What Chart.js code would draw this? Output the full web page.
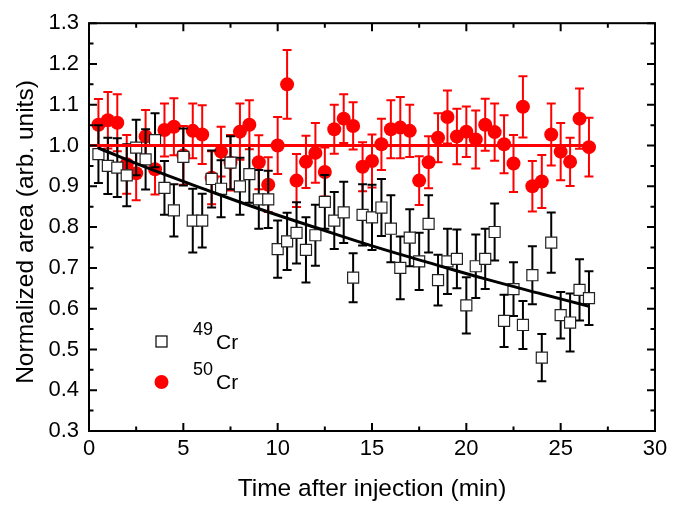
<!DOCTYPE html>
<html>
<head>
<meta charset="utf-8">
<title>Normalized area vs time</title>
<script src="https://cdn.jsdelivr.net/npm/chart.js@4.4.1/dist/chart.umd.min.js"></script>
<style>
    html, body { margin: 0; padding: 0; background: #fff; }
    #wrap { width: 691px; height: 505px; }
</style>
</head>
<body>
<div id="wrap"><canvas id="areaChart" width="691" height="505"></canvas></div>
<script>
// ==========================================
// DATA
// ==========================================
const times = [0.5, 1, 1.5, 2, 2.5, 3, 3.5, 4, 4.5, 5, 5.5, 6, 6.5, 7, 7.5, 8, 8.5, 9, 9.5, 10,
    10.5, 11, 11.5, 12, 12.5, 13, 13.5, 14, 14.5, 15, 15.5, 16, 16.5, 17, 17.5, 18, 18.5, 19, 19.5, 20,
    20.5, 21, 21.5, 22, 22.5, 23, 23.5, 24, 24.5, 25, 25.5, 26, 26.5];

// 49Cr (open squares)
const cr49 = [0.979, 0.950, 0.946, 0.927, 0.995, 0.966, 1.013, 0.896, 0.841, 0.972,
    0.816, 0.816, 0.918, 0.894, 0.958, 0.900, 0.930, 0.868, 0.868, 0.746,
    0.765, 0.786, 0.744, 0.780, 0.862, 0.816, 0.836, 0.676, 0.830, 0.824,
    0.848, 0.796, 0.700, 0.774, 0.716, 0.808, 0.670, 0.716, 0.722, 0.608,
    0.704, 0.722, 0.788, 0.570, 0.648, 0.560, 0.682, 0.480, 0.762, 0.584,
    0.566, 0.646, 0.626];
const cr49Err = [0.071, 0.069, 0.072, 0.076, 0.068, 0.074, 0.066, 0.066, 0.064, 0.070,
    0.078, 0.066, 0.070, 0.070, 0.065, 0.070, 0.070, 0.072, 0.070, 0.070,
    0.070, 0.075, 0.080, 0.075, 0.066, 0.070, 0.075, 0.060, 0.075, 0.080,
    0.070, 0.082, 0.077, 0.070, 0.070, 0.070, 0.062, 0.080, 0.072, 0.069,
    0.078, 0.074, 0.070, 0.064, 0.066, 0.059, 0.071, 0.058, 0.074, 0.057,
    0.071, 0.075, 0.066];

// 50Cr (filled circles)
const cr50 = [1.051, 1.062, 1.056, 0.954, 0.932, 1.022, 0.942, 1.038, 1.046, 0.976,
    1.036, 1.027, 0.921, 0.985, 0.958, 1.034, 1.051, 0.959, 0.904, 1.000,
    1.150, 0.914, 0.960, 0.982, 0.935, 1.040, 1.066, 1.048, 0.948, 0.962,
    1.003, 1.040, 1.044, 1.036, 0.914, 0.959, 1.019, 1.070, 1.022, 1.034,
    1.015, 1.051, 1.033, 1.003, 0.956, 1.095, 0.900, 0.912, 1.027, 0.985,
    0.960, 1.066, 0.996];
const cr50Err = [0.063, 0.069, 0.070, 0.072, 0.066, 0.065, 0.062, 0.065, 0.070, 0.072,
    0.067, 0.072, 0.065, 0.061, 0.068, 0.069, 0.060, 0.066, 0.067, 0.070,
    0.084, 0.065, 0.064, 0.073, 0.060, 0.060, 0.060, 0.058, 0.060, 0.065,
    0.063, 0.071, 0.075, 0.064, 0.060, 0.064, 0.060, 0.065, 0.068, 0.062,
    0.071, 0.064, 0.070, 0.071, 0.070, 0.075, 0.062, 0.065, 0.076, 0.070,
    0.059, 0.074, 0.072];

// fit curves
const fit49T = [0.5, 3, 6, 9, 12, 15, 18, 21, 24, 26.5];
const fit49Y = [0.994, 0.947, 0.895, 0.845, 0.799, 0.754, 0.713, 0.673, 0.636, 0.606];
const fit50T = [0, 26.8];
const fit50Y = [1.0, 1.0];

// axes
const xTickValues = [0, 5, 10, 15, 20, 25, 30];
const yTickValues = [0.3, 0.4, 0.5, 0.6, 0.7, 0.8, 0.9, 1.0, 1.1, 1.2, 1.3];
const yTitle = 'Normalized area (arb. units)';

const toPoints = (xs, ys) => xs.map((x, i) => ({ x: x, y: ys[i] }));
const fontFamily = '"Liberation Sans", Arial, sans-serif';

// ==========================================
// PLUGINS
// ==========================================
// error bars, drawn just under each dataset's markers
const errorBars = {
    id: 'errorBars',
    beforeDatasetDraw(chart, args) {
        const ds = chart.data.datasets[args.index];
        if (!ds.errors) return;
        const ctx = chart.ctx;
        const xs = chart.scales.x, ys = chart.scales.y;
        ctx.save();
        ctx.strokeStyle = ds.errorColor;
        ctx.lineWidth = 2;
        ds.data.forEach((p, i) => {
            const px = xs.getPixelForValue(p.x);
            const top = ys.getPixelForValue(p.y + ds.errors[i]);
            const bot = ys.getPixelForValue(p.y - ds.errors[i]);
            ctx.beginPath();
            ctx.moveTo(px, top); ctx.lineTo(px, bot);
            ctx.moveTo(px - 4.5, top); ctx.lineTo(px + 4.5, top);
            ctx.moveTo(px - 4.5, bot); ctx.lineTo(px + 4.5, bot);
            ctx.stroke();
        });
        ctx.restore();
    }
};

// box frame with inward major/minor ticks on all four sides, plus the y title
const frame = {
    id: 'frame',
    afterDraw(chart) {
        const { ctx, chartArea: a, scales: { x, y } } = chart;
        ctx.save();
        ctx.strokeStyle = '#000';
        ctx.lineWidth = 2;
        ctx.strokeRect(a.left, a.top, a.right - a.left, a.bottom - a.top);
        ctx.beginPath();
        xTickValues.forEach((v, i) => {
            const marks = [[v, 8]];
            if (i < xTickValues.length - 1) marks.push([(v + xTickValues[i + 1]) / 2, 4.5]);
            marks.forEach(([t, len]) => {
                const px = x.getPixelForValue(t);
                ctx.moveTo(px, a.bottom); ctx.lineTo(px, a.bottom - len);
                ctx.moveTo(px, a.top); ctx.lineTo(px, a.top + len);
            });
        });
        yTickValues.forEach((v, i) => {
            const marks = [[v, 8]];
            if (i < yTickValues.length - 1) marks.push([(v + yTickValues[i + 1]) / 2, 4.5]);
            marks.forEach(([t, len]) => {
                const py = y.getPixelForValue(t);
                ctx.moveTo(a.left, py); ctx.lineTo(a.left + len, py);
                ctx.moveTo(a.right, py); ctx.lineTo(a.right - len, py);
            });
        });
        ctx.stroke();

        // y title sits a bit below the plot centre in the original
        ctx.translate(26, 232);
        ctx.rotate(-Math.PI / 2);
        ctx.fillStyle = '#000';
        ctx.font = '24.5px ' + fontFamily;
        ctx.textAlign = 'center';
        ctx.textBaseline = 'middle';
        ctx.fillText(yTitle, 0, 0);
        ctx.restore();
    }
};

// legend in the lower left corner of the plot
const legendBox = {
    id: 'legendBox',
    afterDraw(chart) {
        const ctx = chart.ctx;
        ctx.save();
        // 49Cr marker
        ctx.fillStyle = '#fff';
        ctx.strokeStyle = '#000';
        ctx.lineWidth = 1.2;
        ctx.fillRect(156, 336, 11, 11);
        ctx.strokeRect(156, 336, 11, 11);
        // 50Cr marker
        ctx.fillStyle = '#ff0000';
        ctx.beginPath();
        ctx.arc(161.5, 382, 7, 0, Math.PI * 2);
        ctx.fill();
        // labels
        ctx.fillStyle = '#000';
        ctx.textBaseline = 'alphabetic';
        ctx.font = '18px ' + fontFamily;
        ctx.fillText('49', 193, 335);
        ctx.fillText('50', 193, 375);
        ctx.font = '21px ' + fontFamily;
        ctx.fillText('Cr', 216, 349);
        ctx.fillText('Cr', 216, 389);
        ctx.restore();
    }
};

// ==========================================
// CHART
// ==========================================
new Chart(document.getElementById('areaChart'), {
    type: 'scatter',
    data: {
        datasets: [
            {
                label: '50Cr',
                data: toPoints(times, cr50),
                errors: cr50Err,
                errorColor: '#ff0000',
                pointStyle: 'circle',
                pointRadius: 7,
                backgroundColor: '#ff0000',
                borderColor: '#ff0000',
                borderWidth: 0,
                order: 4
            },
            {
                label: '49Cr',
                data: toPoints(times, cr49),
                errors: cr49Err,
                errorColor: '#000',
                pointStyle: 'rect',
                pointRadius: 7.8,
                backgroundColor: '#fff',
                borderColor: '#222',
                borderWidth: 1.2,
                order: 3
            },
            {
                label: 'fit 50Cr',
                data: toPoints(fit50T, fit50Y),
                showLine: true,
                pointRadius: 0,
                borderColor: '#ff0000',
                borderWidth: 3,
                order: 2
            },
            {
                label: 'fit 49Cr',
                data: toPoints(fit49T, fit49Y),
                showLine: true,
                tension: 0.4,
                pointRadius: 0,
                borderColor: '#000',
                borderWidth: 3,
                order: 1
            }
        ]
    },
    options: {
        responsive: false,
        animation: false,
        events: [],
        layout: { padding: { left: 0, top: 14, right: 36, bottom: 0 } },
        plugins: { legend: { display: false }, tooltip: { enabled: false } },
        scales: {
            x: {
                type: 'linear',
                min: 0, max: 30,
                afterBuildTicks: (s) => { s.ticks = xTickValues.map(v => ({ value: v })); },
                afterFit: (s) => { s.height = 74; },
                grid: { display: false, drawTicks: false },
                border: { display: false },
                ticks: { padding: 5, color: '#000', font: { family: fontFamily, size: 22 } },
                title: {
                    display: true,
                    text: 'Time after injection (min)',
                    color: '#000',
                    font: { family: fontFamily, size: 24.5 },
                    padding: { top: 0, bottom: 1 }
                }
            },
            y: {
                type: 'linear',
                min: 0.3, max: 1.3,
                afterBuildTicks: (s) => { s.ticks = yTickValues.map(v => ({ value: v })); },
                afterFit: (s) => { s.width = 89; },
                grid: { display: false, drawTicks: false },
                border: { display: false },
                ticks: {
                    padding: 10, color: '#000',
                    font: { family: fontFamily, size: 22 },
                    callback: (v) => Number(v).toFixed(1)
                }
            }
        }
    },
    plugins: [errorBars, frame, legendBox]
});
</script>
</body>
</html>
